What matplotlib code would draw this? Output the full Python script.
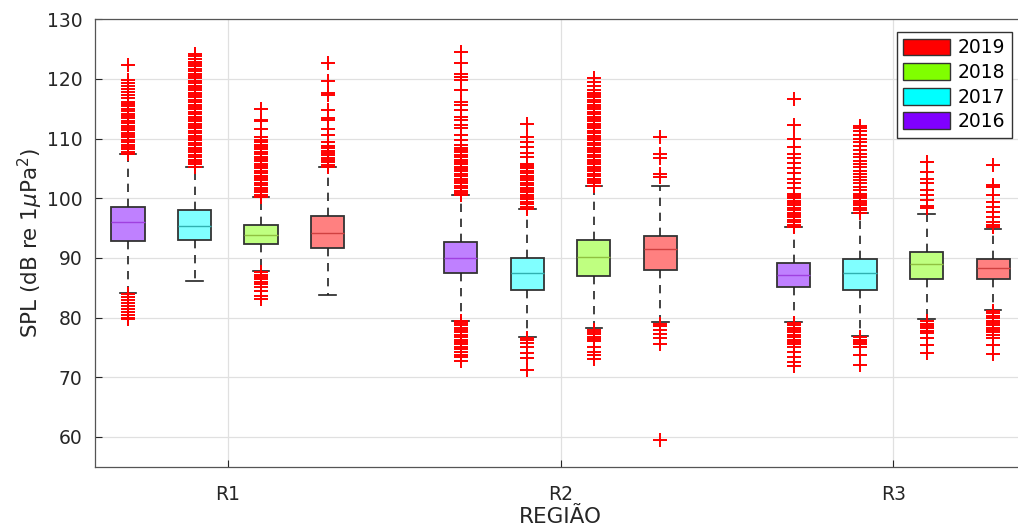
import matplotlib
matplotlib.use('Agg')
import matplotlib.pyplot as plt
from matplotlib.patches import Patch

plt.rcParams['font.family'] = ['DejaVu Sans']

regions = ['R1', 'R2', 'R3']
years = ['2016', '2017', '2018', '2019']
year_colors = ['#8000ff', '#00ffff', '#80ff00', '#ff0000']
box_colors = ['#bf80ff', '#80ffff', '#bfff80', '#ff8080']
median_colors = ['#a040e0', '#30b0b0', '#90c040', '#d04040']

# box statistics, [region][year 2016..2019]
q1 = [[92.9, 93.0, 92.4, 91.7],
      [87.4, 84.7, 87.0, 88.0],
      [85.2, 84.7, 86.5, 86.4]]
med = [[96.0, 95.3, 93.9, 94.1],
       [90.0, 87.4, 90.1, 91.5],
       [87.1, 87.4, 88.9, 88.3]]
q3 = [[98.6, 98.0, 95.6, 97.1],
      [92.7, 90.0, 93.0, 93.7],
      [89.2, 89.8, 91.0, 89.8]]
whislo = [[84.2, 86.1, 87.8, 83.8],
          [79.5, 76.7, 78.2, 79.2],
          [79.2, 76.9, 79.8, 81.2]]
whishi = [[107.4, 105.3, 100.2, 105.2],
          [100.5, 98.2, 102.1, 102.1],
          [95.2, 97.6, 97.4, 94.8]]

fliers_r1 = [
    [79.7, 80.0, 80.5, 81.0, 81.5, 82.0, 82.5, 83.0, 83.5, 84.0,
     107.4, 107.8, 108.2, 108.6, 109.0, 109.4, 109.8, 110.2, 110.6, 111.0, 111.4, 111.8,
     112.2, 112.6, 113.0, 113.4, 113.8, 114.2, 114.6, 115.0, 115.4, 115.8, 116.2,
     116.8, 117.3, 117.9, 118.4, 118.9, 119.4, 119.8, 122.4],
    [105.3, 105.7, 106.1, 106.5, 106.9, 107.3, 107.7, 108.1, 108.5, 108.9, 109.3, 109.7,
     110.1, 110.5, 110.9, 111.3, 111.7, 112.1, 112.5, 112.9, 113.3, 113.7, 114.1, 114.5,
     114.9, 115.3, 115.7, 116.1, 116.5, 116.9, 117.3, 117.7, 118.1, 118.5, 118.9, 119.3,
     119.7, 120.1, 120.5, 120.9, 121.3, 121.7, 122.1, 122.5, 122.9, 123.4, 123.8, 124.2],
    [83.1, 83.6, 84.4, 85.2, 85.6, 86.0, 86.4, 86.8, 87.2, 87.6,
     100.2, 100.6, 101.0, 101.4, 101.8, 102.2, 102.6, 103.0, 103.4, 103.8, 104.2, 104.6,
     105.0, 105.4, 105.8, 106.2, 106.6, 107.0, 107.4, 107.8, 108.2, 108.6, 109.0, 109.4,
     109.8, 110.2, 111.6, 112.9, 113.1, 115.0],
    [105.2, 105.6, 106.0, 106.4, 106.8, 107.2, 107.6, 108.0, 108.4, 108.8,
     109.5, 110.6, 111.6, 113.1, 113.4, 114.8, 117.3, 117.7, 119.7, 122.6],
]
fliers_r2 = [
    [72.8, 73.4, 73.8, 74.3, 74.7, 75.1, 75.5, 75.9, 76.3, 76.7, 77.1, 77.5, 77.9, 78.3,
     78.7, 79.1, 79.5,
     100.5, 100.9, 101.3, 101.7, 102.1, 102.5, 102.9, 103.3, 103.7, 104.1, 104.5, 104.9,
     105.3, 105.7, 106.1, 106.5, 106.9, 107.3, 107.7, 108.1, 108.5, 108.9,
     109.8, 110.6, 111.7, 112.3, 113.1, 113.7, 114.8, 115.6, 116.2, 118.1, 119.8, 120.4,
     120.9, 122.6, 124.5],
    [71.2, 73.2, 74.0, 75.1, 75.7, 76.2, 76.6,
     98.2, 98.6, 99.0, 99.4, 99.8, 100.2, 100.6, 101.0, 101.4, 101.8, 102.2, 102.6, 103.0,
     103.4, 103.8, 104.2, 104.6, 105.0, 105.4, 105.8,
     107.0, 107.6, 108.6, 109.5, 110.2, 112.4],
    [73.0, 73.7, 74.3, 75.1, 76.0, 76.4, 76.8, 77.2, 77.6, 78.0,
     102.1, 102.5, 102.9, 103.3, 103.7, 104.1, 104.5, 104.9, 105.3, 105.7, 106.1, 106.5,
     106.9, 107.3, 107.7, 108.1, 108.5, 108.9, 109.3, 109.7, 110.1, 110.5, 110.9, 111.3,
     111.7, 112.1, 112.5, 112.9, 113.3, 113.7, 114.1, 114.5, 114.9, 115.3, 115.7, 116.1,
     116.5, 116.9, 117.3, 117.7, 118.1, 118.8, 119.5, 120.2],
    [59.5, 75.6, 76.5, 77.3, 78.0, 78.6, 79.0,
     103.5, 104.0, 106.8, 107.4, 110.2],
]
fliers_r3 = [
    [71.8, 72.6, 73.4, 74.3, 75.1, 75.5, 75.9, 76.3, 76.7, 77.1, 77.5, 77.9, 78.3, 78.7, 79.1,
     95.2, 95.6, 96.0, 96.4, 96.8, 97.2, 97.6, 98.0, 98.4, 98.8, 99.2, 99.6, 100.0, 100.4,
     100.8, 101.7, 102.5, 103.3, 104.2, 105.0, 105.9, 106.7, 107.5, 108.6, 109.9, 112.3,
     116.6],
    [72.0, 73.7, 75.1, 75.5, 75.9, 76.3, 76.7,
     97.6, 98.0, 98.4, 98.8, 99.2, 99.6, 100.0, 100.4, 100.8, 101.4, 101.9, 102.5, 103.1,
     103.5, 104.0, 104.6, 105.2, 105.7, 106.3, 106.9, 107.5, 108.1, 108.7, 109.4, 110.0,
     110.6, 111.2, 111.7, 112.2],
    [74.0, 75.4, 76.5, 77.4, 77.8, 78.2, 78.6, 79.0, 79.4,
     98.3, 98.7, 99.7, 100.5, 101.4, 102.5, 103.3, 104.4, 106.1],
    [73.9, 75.4, 76.5, 77.1, 77.5, 77.9, 78.3, 78.7, 79.1, 79.5, 79.9, 80.3, 80.7, 81.1,
     95.2, 95.6, 96.0, 96.9, 97.7, 98.6, 99.4, 100.5, 101.9, 102.2, 105.6],
]
fliers = [fliers_r1, fliers_r2, fliers_r3]

fig = plt.figure(figsize=(10.18, 5.28), dpi=100)
ax = fig.add_axes([0.093, 0.1161, 0.9153, 0.8473])

for g in range(len(regions)):
    for i in range(len(years)):
        stats = [dict(med=med[g][i], q1=q1[g][i], q3=q3[g][i],
                      whislo=whislo[g][i], whishi=whishi[g][i], fliers=fliers[g][i])]
        pos = 1 + 5 * g + i
        ax.bxp(stats, positions=[pos], widths=0.5, patch_artist=True, capwidths=0.25,
               boxprops=dict(facecolor=box_colors[i], edgecolor='#333333', linewidth=1.3),
               medianprops=dict(color=median_colors[i], linewidth=1.0),
               whiskerprops=dict(color='#222222', linestyle=(0, (5, 4)), linewidth=1.2),
               capprops=dict(color='#222222', linewidth=1.2),
               flierprops=dict(marker='+', markeredgecolor='#ff0000', markersize=10.5,
                               markeredgewidth=1.4, linestyle='none'),
               zorder=3)

ax.set_xlim(0.5, 14.5)
ax.set_ylim(55, 130)
ax.set_xticks([2.5, 7.5, 12.5])
ax.set_xticklabels(regions)
ax.set_yticks(range(60, 131, 10))
ax.grid(True, color='#e0e0e0', linewidth=0.9, zorder=0)
ax.set_axisbelow(True)
ax.tick_params(direction='in', length=5, labelsize=13.5, colors='#262626', width=0.8)
ax.tick_params(axis='y', pad=9)
ax.tick_params(axis='x', pad=13)
for s in ax.spines.values():
    s.set_color('#555555')
    s.set_linewidth(0.9)

ax.set_ylabel(r'SPL (dB re 1$\mu$Pa$^2$)', fontsize=15.5, color='#262626', labelpad=1)
ax.set_xlabel('REGIÃO', fontsize=15.5, color='#262626', labelpad=2)

handles = [Patch(facecolor=year_colors[i], edgecolor='#333333', label=years[i])
           for i in range(len(years) - 1, -1, -1)]
ax.legend(handles=handles, loc='upper right', bbox_to_anchor=(0.984, 0.972),
          fontsize=13.5, frameon=True, fancybox=False, edgecolor='#333333',
          framealpha=1, handlelength=2.5, handleheight=1.0, labelspacing=0.3,
          handletextpad=0.4, borderpad=0.35, borderaxespad=0)

fig.savefig('out.png', dpi=100)
